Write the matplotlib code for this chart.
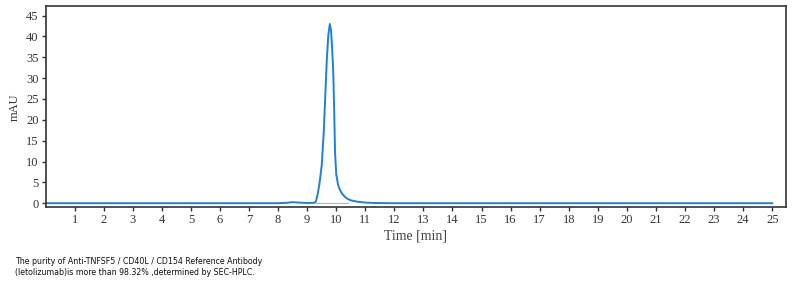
import matplotlib.pyplot as plt

# chromatogram trace
time_min = [0, 8.0, 8.3, 8.5, 8.7, 9.0, 9.25, 9.3, 9.35, 9.42, 9.5, 9.57, 9.63, 9.68, 9.73,
            9.78, 9.82, 9.86, 9.9, 9.93, 9.96, 10.0, 10.06, 10.12, 10.2, 10.3, 10.4,
            10.5, 10.65, 10.8, 11.0, 11.3, 12.0, 25.0]
mau = [0, 0, 0.1, 0.25, 0.15, 0.05, 0.1, 0.4, 1.8, 4.5, 9, 17, 27, 35, 40.5,
       43, 41.5, 37, 31, 22, 12, 7, 4.5, 3.3, 2.3, 1.5, 1.0,
       0.7, 0.45, 0.3, 0.15, 0.05, 0, 0]
x_ticks = list(range(1, 26))
y_ticks = list(range(0, 50, 5))
caption = ("The purity of Anti-TNFSF5 / CD40L / CD154 Reference Antibody\n"
           "(letolizumab)is more than 98.32% ,determined by SEC-HPLC.")

fig = plt.figure(figsize=(7.94, 2.88), dpi=100)
ax = fig.add_axes([0.0574, 0.280, 0.932, 0.699])

ax.plot(time_min, mau, color="#1f80d8", lw=1.4)
# integration baseline under the main peak
ax.plot([9.3, 10.4], [0.02, 0.02], color="#8cc0ee", lw=0.8)

ax.set_xlim(0, 25.46)
ax.set_ylim(-1, 47.3)
ax.set_xticks(x_ticks)
ax.set_yticks(y_ticks)
for lab in ax.get_xticklabels() + ax.get_yticklabels():
    lab.set_family("Liberation Serif")
    lab.set_fontsize(9)
    lab.set_color("#333333")
ax.tick_params(direction="out", length=3, width=1, color="#333333", pad=2)
for s in ax.spines.values():
    s.set_color("#333333")
    s.set_linewidth(1.2)

ax.set_xlabel("Time [min]", family="Liberation Serif", fontsize=10, color="#444444", labelpad=2)
ax.set_ylabel("mAU", family="Liberation Serif", fontsize=9, color="#333333", labelpad=4)

fig.text(0.019, 0.073, caption, family="DejaVu Sans", fontsize=5.7,
         color="#111111", va="center", linespacing=1.25)

fig.savefig("out.png", dpi=100)
